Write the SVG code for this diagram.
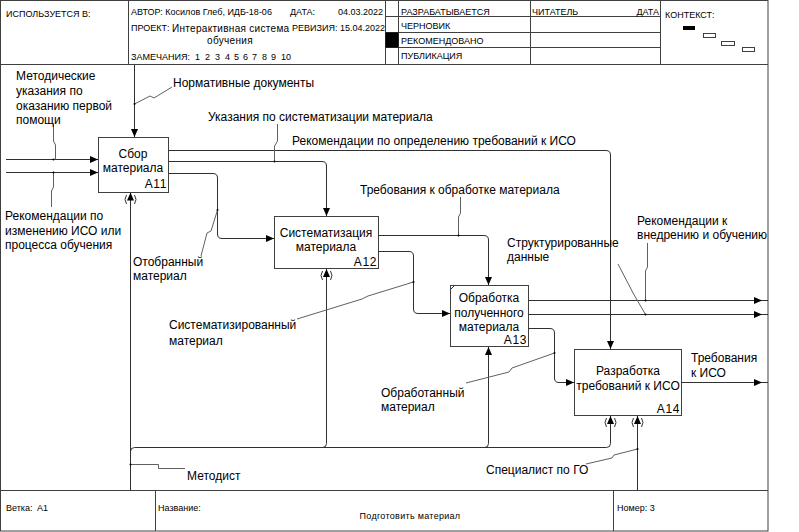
<svg xmlns="http://www.w3.org/2000/svg" width="799" height="532" viewBox="0 0 799 532">
  <style>
    text { font-family: "Liberation Sans", Arial, sans-serif; fill: #000; }
    .h { font-size: 9px; }
    .hp { font-size: 10px; letter-spacing: 0.3px; }
    .lbl { font-size: 12px; }
    .bt { font-size: 12px; text-anchor: middle; }
    .bn { font-size: 12px; text-anchor: end; letter-spacing: 0.6px; }
    .frame { fill: none; stroke: #404040; stroke-width: 1; }
    .box { fill: #fff; stroke: #404040; stroke-width: 1; }
    .arc { fill: none; stroke: #303030; stroke-width: 1; marker-end: url(#ah); }
    .line { fill: none; stroke: #303030; stroke-width: 1; }
    .sq { fill: none; stroke: #606060; stroke-width: 1; }
    .dot { fill: #000; }
    .tun { fill: none; stroke: #303030; stroke-width: 1; }
  </style>
  <defs>
    <marker id="ah" markerUnits="userSpaceOnUse" markerWidth="8" markerHeight="7" refX="8" refY="3.5" orient="auto">
      <path d="M0,0 L8,3.5 L0,7 z" fill="#000"/>
    </marker>
  </defs>

  <rect width="799" height="532" fill="#fff"/>

  <!-- form frame: header and footer -->
  <g id="frame">
    <rect class="frame" x="0.5" y="0.5" width="767.5" height="530.5"/>
    <path class="frame" d="M0,64.5 H768 M128.5,0 V64.5 M385.5,0 V64.5 M398.5,0 V64.5 M530.5,0 V64.5 M660.5,0 V64.5 M385.5,16.5 H660.5 M385.5,32.5 H660.5 M385.5,47.5 H660.5 M0,490.5 H768 M155.5,490.5 V531 M613.5,490.5 V531"/>
    <rect x="385.5" y="32.5" width="13" height="15" fill="#000"/>
    <rect x="683" y="26" width="12" height="4" fill="#000"/>
    <rect x="703.5" y="33.5" width="12" height="4" fill="#fff" stroke="#404040"/>
    <rect x="721.5" y="41.5" width="13" height="4" fill="#fff" stroke="#404040"/>
    <rect x="742.5" y="47.5" width="12" height="4" fill="#fff" stroke="#404040"/>

    <text class="h" x="6" y="17">ИСПОЛЬЗУЕТСЯ В:</text>
    <text class="h" x="131" y="15">АВТОР: Косилов Глеб, ИДБ-18-06</text>
    <text class="h" x="290" y="15">ДАТА:</text>
    <text class="h" x="338" y="15">04.03.2022</text>
    <text class="h" x="131" y="31">ПРОЕКТ:</text>
    <text class="hp" x="172" y="32">Интерактивная система</text>
    <text class="hp" x="230" y="44" text-anchor="middle">обучения</text>
    <text class="h" x="292" y="31">РЕВИЗИЯ: 15.04.2022</text>
    <text class="h" x="131" y="60">ЗАМЕЧАНИЯ:<tspan x="195">1</tspan><tspan x="205">2</tspan><tspan x="215">3</tspan><tspan x="225">4</tspan><tspan x="234">5</tspan><tspan x="243">6</tspan><tspan x="252">7</tspan><tspan x="262">8</tspan><tspan x="271">9</tspan><tspan x="281">10</tspan></text>
    <text class="h" x="401" y="15">РАЗРАБАТЫВАЕТСЯ</text>
    <text class="h" x="532" y="15">ЧИТАТЕЛЬ</text>
    <text class="h" x="659" y="15" text-anchor="end">ДАТА</text>
    <text class="h" x="401" y="29">ЧЕРНОВИК</text>
    <text class="h" x="401" y="44">РЕКОМЕНДОВАНО</text>
    <text class="h" x="401" y="59">ПУБЛИКАЦИЯ</text>
    <text class="h" x="665" y="18">КОНТЕКСТ:</text>

    <text class="h" x="6" y="511">Ветка:<tspan x="37">A1</tspan></text>
    <text class="h" x="158" y="511">Название:</text>
    <text class="hp" x="410" y="519" text-anchor="middle" style="font-size:9px">Подготовить материал</text>
    <text class="h" x="617" y="511">Номер: 3</text>
  </g>

  <!-- activity boxes -->
  <g id="A11">
    <rect class="box" x="98.5" y="137.5" width="70" height="55"/>
    <text class="bt" x="133" y="158">Сбор</text>
    <text class="bt" x="133" y="172">материала</text>
    <text class="bn" x="167" y="188">A11</text>
  </g>
  <g id="A12">
    <rect class="box" x="274.5" y="216.5" width="104" height="52"/>
    <text class="bt" x="326" y="237">Систематизация</text>
    <text class="bt" x="326" y="251">материала</text>
    <text class="bn" x="377" y="266">A12</text>
  </g>
  <g id="A13">
    <rect class="box" x="450.5" y="285.5" width="78" height="61"/>
    <path class="line" d="M450.5,289.5 L454.5,285.5"/>
    <text class="bt" x="489" y="302">Обработка</text>
    <text class="bt" x="489" y="317">полученного</text>
    <text class="bt" x="489" y="331">материала</text>
    <text class="bn" x="527" y="344">A13</text>
  </g>
  <g id="A14">
    <rect class="box" x="574.5" y="349.5" width="107" height="66"/>
    <text class="bt" x="628" y="375">Разработка</text>
    <text class="bt" x="628" y="390">требований к ИСО</text>
    <text class="bn" x="680" y="413">A14</text>
  </g>

  <!-- connectors -->
  <g id="connectors">
    <!-- inputs -->
    <path class="arc" d="M6,159.5 H98"/>
    <path class="arc" d="M6,172.5 H98"/>
    <!-- controls -->
    <path class="arc" d="M134.5,65 V137"/>
    <path class="arc" d="M168.5,150.5 H606 Q610.5,150.5 610.5,155 V349"/>
    <path class="arc" d="M168.5,161.5 H322 Q326.5,161.5 326.5,166 V216"/>
    <path class="arc" d="M378.5,235.5 H484 Q488.5,235.5 488.5,240 V285"/>
    <!-- flows between activities -->
    <path class="arc" d="M168.5,173.5 H213 Q217.5,173.5 217.5,178 V234 Q217.5,238.5 222,238.5 H274"/>
    <path class="arc" d="M378.5,251.5 H409 Q413.5,251.5 413.5,256 V309 Q413.5,313.5 418,313.5 H450"/>
    <path class="arc" d="M528.5,328.5 H550 Q554.5,328.5 554.5,333 V378 Q554.5,382.5 559,382.5 H574"/>
    <!-- outputs to the boundary -->
    <path class="arc" d="M762,300.5 H768 M528.5,300.5 H762"/>
    <path class="arc" d="M762,314.5 H768 M528.5,314.5 H762"/>
    <path class="arc" d="M762,382.5 H768 M681.5,382.5 H762"/>
    <!-- mechanisms -->
    <path class="arc" d="M130.5,490 V192.5"/>
    <path class="arc" d="M130.5,451.5 Q130.5,447.5 134.5,447.5 H606.5 Q610.5,447.5 610.5,443.5 V416"/>
    <path class="arc" d="M322.5,447.5 Q326.5,447.5 326.5,443.5 V269"/>
    <path class="arc" d="M484.5,447.5 Q488.5,447.5 488.5,443.5 V347"/>
    <path class="arc" d="M637.5,490 V416"/>
    <!-- tunnel brackets -->
    <path class="tun" d="M126.5,195 Q123.5,199.5 126.5,204 M134.5,195 Q137.5,199.5 134.5,204"/>
    <path class="tun" d="M322.5,271 Q319.5,275.5 322.5,280 M330.5,271 Q333.5,275.5 330.5,280"/>
    <path class="tun" d="M606.5,418 Q603.5,422.5 606.5,427 M614.5,418 Q617.5,422.5 614.5,427"/>
    <path class="tun" d="M633.5,418 Q630.5,422.5 633.5,427 M641.5,418 Q644.5,422.5 641.5,427"/>

    <!-- label leaders -->
    <path class="sq" d="M53.5,124 V141 L55.5,145 V159.5"/>
    <path class="sq" d="M53.5,172.5 V187 L51.5,191 V207"/>
    <path class="sq" d="M134.5,104 L150,96 L154,98 L172,87"/>
    <path class="sq" d="M274.5,161.5 V146 L277.5,141 V124"/>
    <path class="sq" d="M217.5,210 L211,231 L207,233 L201,256"/>
    <path class="sq" d="M458.5,235.5 V217 L460.5,213 V197"/>
    <path class="sq" d="M413.5,282 L368,296 L362,299 L297,319"/>
    <path class="sq" d="M645.5,314.5 L633,293 L631,289 L618,264"/>
    <path class="sq" d="M645.5,300.5 V271 L647.5,267 V243"/>
    <path class="sq" d="M554.5,353 L512,368 L509,372 L466,383"/>
    <path class="sq" d="M130.5,464.5 H158.5 V468.5 H185"/>
    <path class="sq" d="M637.5,449 L614,455 L612,458 L586,464"/>
    <circle class="dot" cx="53.5" cy="159.5" r="1"/>
    <circle class="dot" cx="53.5" cy="172.5" r="1"/>
    <circle class="dot" cx="134.5" cy="104" r="1"/>
    <circle class="dot" cx="274.5" cy="161.5" r="1"/>
    <circle class="dot" cx="217.5" cy="210" r="1"/>
    <circle class="dot" cx="458.5" cy="235.5" r="1"/>
    <circle class="dot" cx="413.5" cy="282" r="1"/>
    <circle class="dot" cx="645.5" cy="314.5" r="1"/>
    <circle class="dot" cx="645.5" cy="300.5" r="1"/>
    <circle class="dot" cx="554.5" cy="353" r="1"/>
    <circle class="dot" cx="130.5" cy="464.5" r="1"/>
    <circle class="dot" cx="637.5" cy="449" r="1"/>

    <!-- arrow labels -->
    <text class="lbl" x="16" y="80">Методические</text>
    <text class="lbl" x="16" y="95">указания по</text>
    <text class="lbl" x="16" y="110">оказанию первой</text>
    <text class="lbl" x="16" y="124">помощи</text>
    <text class="lbl" x="5" y="220">Рекомендации по</text>
    <text class="lbl" x="5" y="235">изменению ИСО или</text>
    <text class="lbl" x="5" y="249">процесса обучения</text>
    <text class="lbl" x="173" y="87">Нормативные документы</text>
    <text class="lbl" x="208" y="121">Указания по систематизации материала</text>
    <text class="lbl" x="292" y="145">Рекомендации по определению требований к ИСО</text>
    <text class="lbl" x="360" y="194">Требования к обработке материала</text>
    <text class="lbl" x="133" y="266">Отобранный</text>
    <text class="lbl" x="133" y="280">материал</text>
    <text class="lbl" x="507" y="247">Структурированные</text>
    <text class="lbl" x="507" y="261">данные</text>
    <text class="lbl" x="637" y="225">Рекомендации к</text>
    <text class="lbl" x="637" y="239">внедрению и обучению</text>
    <text class="lbl" x="169" y="329">Систематизированный</text>
    <text class="lbl" x="169" y="345">материал</text>
    <text class="lbl" x="381" y="397">Обработанный</text>
    <text class="lbl" x="381" y="411">материал</text>
    <text class="lbl" x="691" y="362">Требования</text>
    <text class="lbl" x="691" y="377">к ИСО</text>
    <text class="lbl" x="187" y="480">Методист</text>
    <text class="lbl" x="486" y="474">Специалист по ГО</text>
  </g>
</svg>
